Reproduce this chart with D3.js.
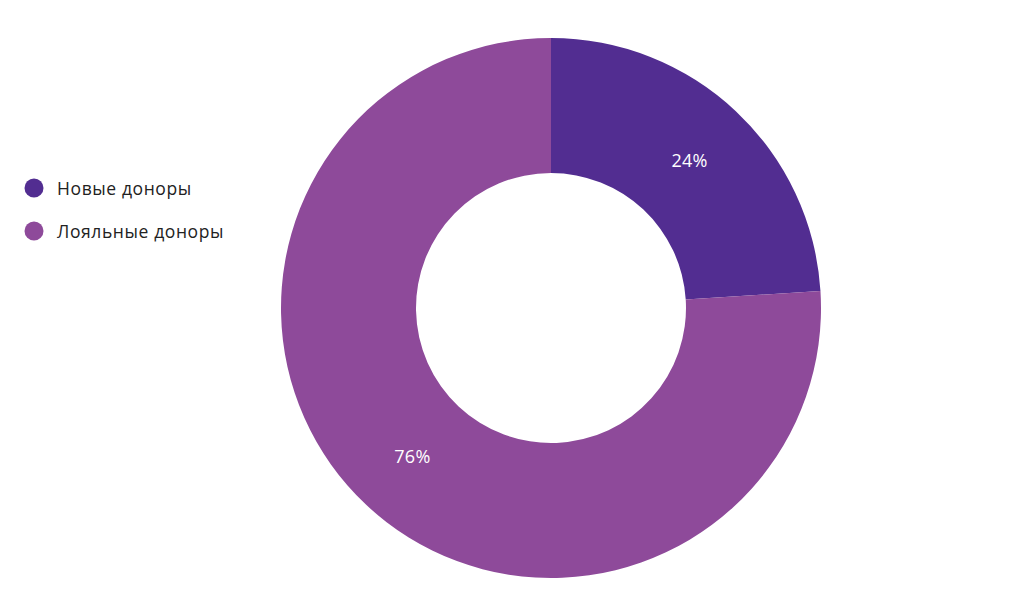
<!DOCTYPE html>
<html><head><meta charset="utf-8">
<script src="https://cdn.jsdelivr.net/npm/d3@7"></script>
<style>
html,body{margin:0;padding:0;background:#fff;}
svg{display:block;}
</style></head>
<body>
<svg id="chart" width="1024" height="613"></svg>
<script>
const categories = ["Новые доноры", "Лояльные доноры"];
const values = [24, 76];
const labels = ["24%", "76%"];
const colors = ["#522d91", "#8e4a9a"];

const svg = d3.select("#chart");
const cx = 551, cy = 308, outerR = 270, innerR = 135;

const pie = d3.pie().sort(null).value(d => d)(values);
const arc = d3.arc().innerRadius(innerR).outerRadius(outerR);

const g = svg.append("g").attr("transform", `translate(${cx},${cy})`);
g.selectAll("path").data(pie).join("path")
  .attr("d", arc)
  .attr("fill", (d, i) => colors[i]);

g.selectAll("text").data(pie).join("text")
  .attr("transform", d => `translate(${arc.centroid(d)})`)
  .attr("text-anchor", "middle")
  .attr("dominant-baseline", "central")
  .attr("fill", "#fff")
  .style("font-family", "'Open Sans', sans-serif")
  .style("font-size", "18px")
  .style("letter-spacing", "0.3px")
  .text((d, i) => labels[i]);

const legend = svg.append("g").attr("transform", "translate(34,188)");
const items = legend.selectAll("g").data(categories).join("g")
  .attr("transform", (d, i) => `translate(0,${i * 43})`);
items.append("circle").attr("r", 9.5).attr("fill", (d, i) => colors[i]);
items.append("text")
  .attr("x", 23)
  .attr("dominant-baseline", "central")
  .attr("fill", "#222")
  .style("font-family", "'Open Sans', sans-serif")
  .style("font-size", "17.5px")
  .style("letter-spacing", "0.6px")
  .text(d => d);
</script>
</body></html>
